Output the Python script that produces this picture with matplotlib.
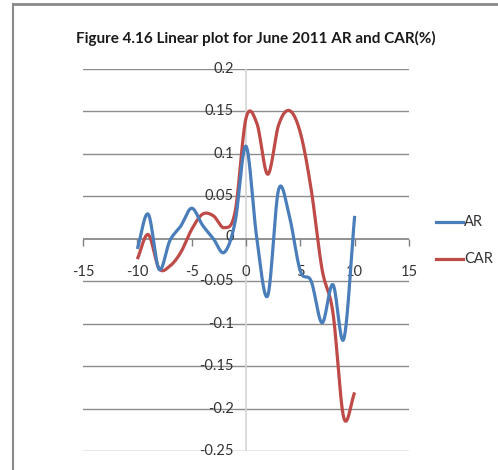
import numpy as np
import matplotlib
matplotlib.use('Agg')
import matplotlib.pyplot as plt
from matplotlib.lines import Line2D

FONT = ['Lato', 'DejaVu Sans']

# ── Data ──────────────────────────────────────────────────────────────────────
days = list(range(-10, 11))
ar = [-0.012, 0.029, -0.036, -0.002, 0.015, 0.036, 0.016, 0.0, -0.016, 0.02,
      0.109, 0.0, -0.067, 0.058, 0.026, -0.038, -0.05, -0.099, -0.054, -0.118, 0.027]
car = [-0.024, 0.005, -0.035, -0.032, -0.016, 0.011, 0.029, 0.027, 0.013, 0.032,
       0.142, 0.136, 0.076, 0.134, 0.151, 0.125, 0.058, -0.036, -0.087, -0.211, -0.181]

x_ticks = [-15, -10, -5, 0, 5, 10, 15]
x_labels = ["-15", "-10", "-5", "0", "5", "10", "15"]
y_ticks = [0.2, 0.15, 0.1, 0.05, 0, -0.05, -0.1, -0.15, -0.2, -0.25]
y_labels = ["0.2", "0.15", "0.1", "0.05", "0", "-0.05", "-0.1", "-0.15", "-0.2", "-0.25"]
title = "Figure 4.16 Linear plot for June 2011 AR and CAR(%)"


def smooth(xs, ys, n=30):
    """Catmull-Rom curve through the points (spreadsheet-style smoothing)."""
    p = np.column_stack([xs, ys]).astype(float)
    p = np.vstack([p[0] * 2 - p[1], p, p[-1] * 2 - p[-2]])
    out = []
    t = np.linspace(0, 1, n, endpoint=False)[:, None]
    for i in range(1, len(p) - 2):
        p0, p1, p2, p3 = p[i - 1], p[i], p[i + 1], p[i + 2]
        seg = 0.5 * ((2 * p1) + (-p0 + p2) * t + (2 * p0 - 5 * p1 + 4 * p2 - p3) * t ** 2
                     + (-p0 + 3 * p1 - 3 * p2 + p3) * t ** 3)
        out.append(seg)
    out.append(p[-2][None, :])
    c = np.vstack(out)
    return c[:, 0], c[:, 1]


W, H = 498, 470
fig = plt.figure(figsize=(W / 100, H / 100), dpi=100)
ax = fig.add_axes([83 / W, 1 - 451 / H, (409 - 83) / W, (451 - 69) / H])
ax.set_xlim(-15, 15)
ax.set_ylim(-0.25, 0.2)
ax.axis('off')

# gridlines and axes
for yv in y_ticks:
    if yv != 0:
        ax.axhline(yv, color='#8c8c8c', lw=1.0, zorder=1)
ax.axvline(0, color='#d4d4d4', lw=1.2, zorder=1)
ax.axhline(0, color='#7f7f7f', lw=1.2, zorder=1)
ax.plot(x_ticks, [0] * len(x_ticks), ls='none', marker=3, markersize=5,
        color='#7f7f7f', markeredgewidth=1.0, zorder=1, clip_on=False)

# tick labels
for xv, lab in zip(x_ticks, x_labels):
    ax.annotate(lab, (xv, 0), xytext=(0, -33), textcoords='offset pixels',
                ha='center', va='center', fontsize=10.5, family=FONT, color='#333333')
for yv, lab in zip(y_ticks, y_labels):
    ax.annotate(lab, (0, yv), xytext=(-12, 2 if yv == 0 else 0), textcoords='offset pixels',
                ha='right', va='center', fontsize=10.5, family=FONT, color='#333333')

sx, sy = smooth(days, ar)
ax.plot(sx, sy, color='#4a7ebb', lw=2.3, solid_capstyle='butt', zorder=3, label='AR')
sx, sy = smooth(days, car)
ax.plot(sx, sy, color='#be4b48', lw=2.3, solid_capstyle='butt', zorder=2, label='CAR')

# legend
for yy, col, lab in [(222, '#4a7ebb', 'AR'), (259, '#be4b48', 'CAR')]:
    fig.add_artist(Line2D([436 / W, 463 / W], [1 - yy / H, 1 - yy / H], color=col, lw=2.3))
    fig.text(464 / W, 1 - yy / H, lab, ha='left', va='center', fontsize=10.5,
             family=FONT, color='#333333')

fig.text(256 / W, 1 - 38 / H, title, ha='center', va='center', fontsize=11,
         family=FONT, fontweight='bold', color='#1a1a1a')

# frame
fig.add_artist(Line2D([13 / W, 13 / W], [0, 1 - 4 / H], color='#8a8a8a', lw=1.5))
fig.add_artist(Line2D([13 / W, 1], [1 - 4 / H, 1 - 4 / H], color='#8a8a8a', lw=2))

fig.savefig('out.png', dpi=100)
